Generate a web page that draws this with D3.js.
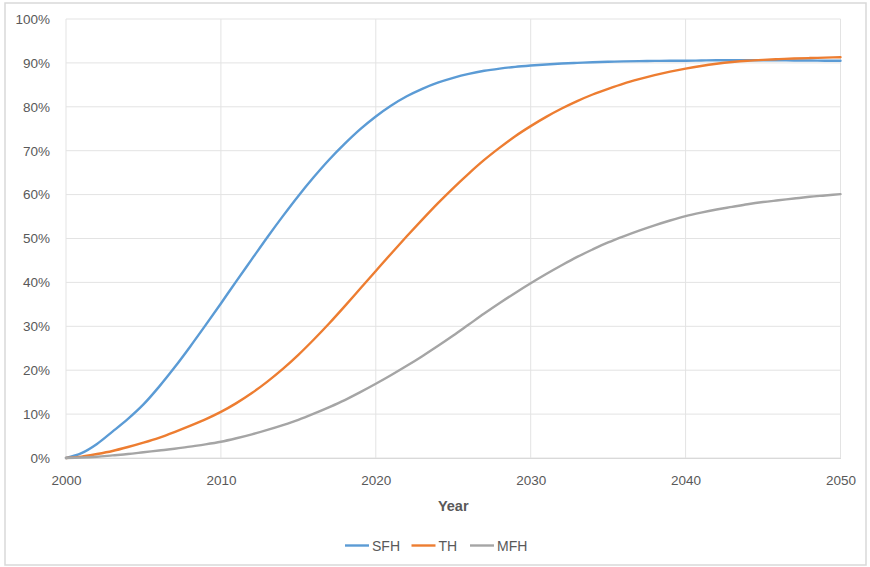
<!DOCTYPE html>
<html>
<head>
<meta charset="utf-8">
<script src="https://cdn.jsdelivr.net/npm/d3@7"></script>
<style>
  html, body { margin: 0; padding: 0; background: #fff; }
  svg { display: block; font-family: "Liberation Sans", Arial, sans-serif; }
</style>
</head>
<body>
<svg id="chart" width="870" height="567"></svg>
<script>
const years = d3.range(2000, 2051);
const sfh = [0, 1.1, 3.2, 6.0, 8.9, 12.2, 16.2, 20.6, 25.3, 30.2, 35.2, 40.3, 45.3, 50.3, 55.1, 59.7, 64.0, 68.0, 71.6, 74.9, 77.8, 80.3, 82.4, 84.1, 85.5, 86.6, 87.5, 88.2, 88.7, 89.1, 89.4, 89.65, 89.85, 90.0, 90.15, 90.25, 90.35, 90.4, 90.45, 90.5, 90.5, 90.55, 90.6, 90.6, 90.6, 90.6, 90.6, 90.55, 90.55, 90.5, 90.5];
const th = [0, 0.3, 0.9, 1.6, 2.5, 3.5, 4.6, 5.9, 7.3, 8.8, 10.5, 12.5, 14.8, 17.4, 20.3, 23.5, 27.0, 30.7, 34.6, 38.6, 42.6, 46.6, 50.5, 54.3, 58.0, 61.5, 64.8, 67.9, 70.7, 73.3, 75.6, 77.7, 79.6, 81.3, 82.8, 84.1, 85.3, 86.3, 87.2, 88.0, 88.7, 89.3, 89.8, 90.2, 90.5, 90.7, 90.85, 91.0, 91.1, 91.2, 91.3];
const mfh = [0, 0.1, 0.3, 0.6, 0.9, 1.3, 1.7, 2.1, 2.6, 3.1, 3.7, 4.5, 5.4, 6.4, 7.5, 8.7, 10.1, 11.6, 13.2, 15.0, 16.9, 18.9, 21.0, 23.2, 25.5, 27.9, 30.4, 32.9, 35.3, 37.6, 39.8, 41.9, 43.9, 45.8, 47.5, 49.1, 50.5, 51.8, 53.0, 54.1, 55.1, 55.9, 56.6, 57.2, 57.8, 58.3, 58.7, 59.1, 59.5, 59.8, 60.1];
const seriesNames = ["SFH", "TH", "MFH"];
const seriesColors = ["#5B9BD5", "#ED7D31", "#A5A5A5"];
const xTicks = [2000, 2010, 2020, 2030, 2040, 2050];
const yTicks = [0, 10, 20, 30, 40, 50, 60, 70, 80, 90, 100];
const xTitle = "Year";

const svg = d3.select("#chart");
const W = 870, H = 567;
const m = { left: 66, right: 29.5, top: 19, bottom: 109 };

svg.append("rect").attr("x", 5).attr("y", 3).attr("width", 861).attr("height", 562)
  .attr("fill", "#fff").attr("stroke", "#d9d9d9").attr("stroke-width", 1.5);

const x = d3.scaleLinear().domain([2000, 2050]).range([m.left, W - m.right]);
const y = d3.scaleLinear().domain([0, 100]).range([H - m.bottom, m.top]);

const g = svg.append("g");
g.selectAll(".hg").data(yTicks).join("line")
  .attr("x1", x(2000)).attr("x2", x(2050))
  .attr("y1", d => y(d)).attr("y2", d => y(d))
  .attr("stroke", "#e3e3e3").attr("stroke-width", 1);
g.selectAll(".vg").data(xTicks).join("line")
  .attr("x1", d => x(d)).attr("x2", d => x(d))
  .attr("y1", y(0)).attr("y2", y(100))
  .attr("stroke", "#e3e3e3").attr("stroke-width", 1);

const yAxis = d3.axisLeft(y).tickValues(yTicks).tickFormat(d => d + "%").tickSize(0).tickPadding(16);
svg.append("g").attr("transform", `translate(${x(2000)},0)`).call(yAxis)
  .call(a => a.select(".domain").remove())
  .selectAll("text").attr("font-size", 13.5).attr("fill", "#595959")
  .attr("font-family", "'Liberation Sans', Arial, sans-serif");

const xAxis = d3.axisBottom(x).tickValues(xTicks).tickFormat(d3.format("d")).tickSize(0).tickPadding(17);
svg.append("g").attr("transform", `translate(0,${y(0)})`).call(xAxis)
  .call(a => a.select(".domain").attr("stroke", "#d9d9d9"))
  .selectAll("text").attr("font-size", 13.5).attr("fill", "#595959")
  .attr("font-family", "'Liberation Sans', Arial, sans-serif");

svg.append("text").attr("x", (x(2000) + x(2050)) / 2).attr("y", 511)
  .attr("text-anchor", "middle").attr("font-size", 14.5).attr("font-weight", "bold")
  .attr("fill", "#595959").text(xTitle);

const allData = [sfh, th, mfh];
const line = d3.line().x((d, i) => x(years[i])).y(d => y(d)).curve(d3.curveMonotoneX);
allData.forEach((s, k) => {
  svg.append("path").datum(s).attr("d", line)
    .attr("fill", "none").attr("stroke", seriesColors[k]).attr("stroke-width", 2.4)
    .attr("stroke-linejoin", "round").attr("stroke-linecap", "round");
});

const legX = [345, 411.5, 470];
const lg = svg.append("g");
seriesNames.forEach((n, k) => {
  lg.append("line").attr("x1", legX[k]).attr("x2", legX[k] + 24)
    .attr("y1", 545.5).attr("y2", 545.5)
    .attr("stroke", seriesColors[k]).attr("stroke-width", 2.4);
  lg.append("text").attr("x", legX[k] + 27).attr("y", 550.5)
    .attr("font-size", 14).attr("fill", "#595959").text(n);
});
</script>
</body>
</html>
